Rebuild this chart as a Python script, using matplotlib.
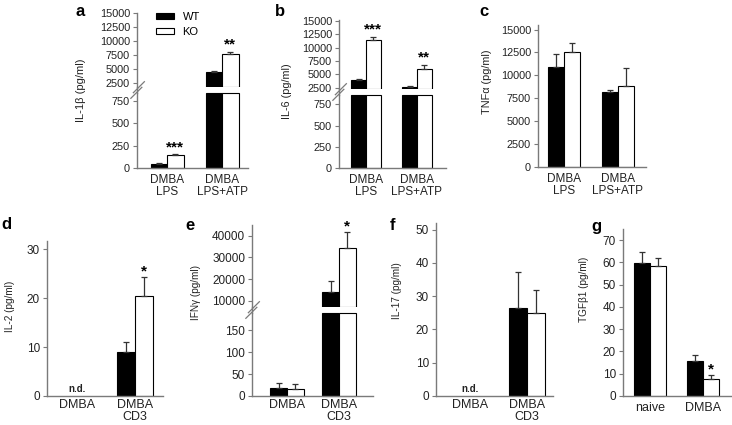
import matplotlib
matplotlib.use('Agg')
import matplotlib.pyplot as plt
import numpy as np
from matplotlib.patches import Patch
from matplotlib.lines import Line2D

plt.rcParams['font.family'] = ['Liberation Sans', 'DejaVu Sans']

# ---------------- data ----------------
series = ['WT', 'KO']
groups_innate = ['DMBA\nLPS', 'DMBA\nLPS+ATP']
groups_tcell = ['DMBA', 'DMBA\nCD3']
groups_tgf = ['naive', 'DMBA']

il1b_wt = [50, 4400]
il1b_ko = [144, 7740]
il1b_wt_err = [8, 300]
il1b_ko_err = [8, 350]

il6_wt = [4000, 2700]
il6_ko = [11400, 6000]
il6_wt_err = [200, 200]
il6_ko_err = [700, 800]

tnf_wt = [10880, 8190]
tnf_ko = [12520, 8880]
tnf_wt_err = [1460, 250]
tnf_ko_err = [1020, 1960]

il2_wt = [np.nan, 9.0]
il2_ko = [np.nan, 20.5]
il2_wt_err = [0, 2.0]
il2_ko_err = [0, 3.9]

ifng_wt = [18.5, 14150]
ifng_ko = [15.4, 34600]
ifng_wt_err = [12.3, 4900]
ifng_ko_err = [13.1, 7200]

il17_wt = [np.nan, 26.5]
il17_ko = [np.nan, 25.0]
il17_wt_err = [0, 10.8]
il17_ko_err = [0, 6.8]

tgfb_wt = [59.6, 15.5]
tgfb_ko = [58.3, 7.8]
tgfb_wt_err = [5.2, 2.9]
tgfb_ko_err = [3.7, 1.5]

# ---------------- layout helpers ----------------
W, H = 732, 425
fig = plt.figure(figsize=(W / 100, H / 100), dpi=100)

SPINE = '#7a7a7a'
TXT = '#222222'


def ax_px(x0, x1, y0, y1):
    return fig.add_axes([x0 / W, 1 - y1 / H, (x1 - x0) / W, (y1 - y0) / H])


def style(ax, ticksize, xaxis=True):
    for s in ['top', 'right']:
        ax.spines[s].set_visible(False)
    ax.spines['left'].set_color(SPINE)
    ax.spines['bottom'].set_color(SPINE)
    ax.spines['left'].set_linewidth(1.0)
    ax.spines['bottom'].set_linewidth(1.0)
    ax.tick_params(axis='y', direction='out', length=3, width=0.8, color=SPINE,
                   labelsize=ticksize, labelcolor=TXT, pad=2)
    if not xaxis:
        ax.spines['bottom'].set_visible(False)
        ax.set_xticks([])
    ax.patch.set_alpha(0)


def draw_bars(ax, wt, ko, wt_err, ko_err, width, lower=None, cap=None, clip=True):
    x = np.arange(len(wt))
    for vals, errs, off, fc in [(wt, wt_err, -width / 2, 'black'),
                                (ko, ko_err, width / 2, 'white')]:
        vals = np.asarray(vals, float)
        errs = np.asarray(errs, float)
        h = vals.copy()
        b = 0
        if cap is not None:
            h = np.minimum(vals, cap)
        if lower is not None:
            h = np.where(vals > lower, vals - lower, np.nan)
            b = lower
        ax.bar(x + off, h, width, bottom=b, color=fc, edgecolor='black',
               linewidth=0.8, clip_on=clip, zorder=2)
        ax.errorbar(x + off, vals, yerr=[np.zeros_like(vals), errs], fmt='none',
                    ecolor='#333333', elinewidth=0.9, capsize=2.5, capthick=0.9, zorder=3)


def star(ax, xi, val, err, width, text, dy=0):
    ax.annotate(text, (xi + width / 2, val + err), xytext=(0, dy), textcoords='offset points',
                ha='center', va='bottom', fontsize=11, fontweight='bold', color='black',
                annotation_clip=False)


def set_cats(ax, labels, xlim, size, pad):
    ax.set_xticks(np.arange(len(labels)))
    ax.set_xticklabels(labels, fontsize=size, color=TXT, linespacing=1.0)
    ax.tick_params(axis='x', length=0, pad=pad)
    ax.set_xlim(*xlim)


def brk(ax_up, ax_lo):
    pu = ax_up.get_position()
    pl = ax_lo.get_position()
    x = pu.x0
    fig.add_artist(Line2D([x, x], [pl.y1, pu.y0], transform=fig.transFigure,
                          color=SPINE, lw=1.0))
    ymid = (pl.y1 + pu.y0) / 2
    dxp, dyp = 5.5 / W, 5.5 / H
    for off in (-2.8, 2.8):
        cx = x + 0.6 / W + off * 0.45 / W
        cy = ymid + off / H
        fig.add_artist(Line2D([cx - dxp, cx + dxp], [cy - dyp, cy + dyp],
                              transform=fig.transFigure, color=SPINE, lw=0.9))


# ---------------- panel a ----------------
wa = 0.30
a_up = ax_px(137, 248, 13, 87)
a_lo = ax_px(137, 248, 93, 168)
draw_bars(a_up, il1b_wt, il1b_ko, il1b_wt_err, il1b_ko_err, wa, lower=1800)
draw_bars(a_lo, il1b_wt, il1b_ko, il1b_wt_err, il1b_ko_err, wa, cap=840, clip=False)
a_up.set_ylim(1800, 15000)
a_up.set_yticks(np.arange(2500, 15001, 2500))
a_lo.set_ylim(0, 840)
a_lo.set_yticks([0, 250, 500, 750])
style(a_up, 7.8, xaxis=False)
style(a_lo, 7.8)
a_up.set_xlim(-0.55, 1.47)
set_cats(a_lo, groups_innate, (-0.55, 1.47), 8.5, 4)
star(a_lo, 0, il1b_ko[0], il1b_ko_err[0], wa, '***', 0)
star(a_up, 1, il1b_ko[1], il1b_ko_err[1], wa, '**', 0)
brk(a_up, a_lo)
handles = [Patch(facecolor='black', edgecolor='black', lw=0.8, label=series[0]),
           Patch(facecolor='white', edgecolor='black', lw=0.8, label=series[1])]
a_up.legend(handles=handles, loc='upper left', bbox_to_anchor=(0.17, 1.01), frameon=False,
            fontsize=8, handlelength=1.6, handleheight=0.4, handletextpad=0.8,
            labelspacing=0.4, borderpad=0, borderaxespad=0)

# ---------------- panel b ----------------
wb = 0.29
b_up = ax_px(339, 446, 20, 89)
b_lo = ax_px(339, 446, 95, 168)
draw_bars(b_up, il6_wt, il6_ko, il6_wt_err, il6_ko_err, wb, lower=2250)
draw_bars(b_lo, il6_wt, il6_ko, il6_wt_err, il6_ko_err, wb, cap=860, clip=False)
b_up.set_ylim(2250, 15200)
b_up.set_yticks(np.arange(2500, 15001, 2500))
b_lo.set_ylim(0, 860)
b_lo.set_yticks([0, 250, 500, 750])
style(b_up, 7.8, xaxis=False)
style(b_lo, 7.8)
b_up.set_xlim(-0.53, 1.57)
set_cats(b_lo, groups_innate, (-0.53, 1.57), 8.5, 4)
star(b_up, 0, il6_ko[0], il6_ko_err[0], wb, '***', 0)
star(b_up, 1, il6_ko[1], il6_ko_err[1], wb, '**', 0)
brk(b_up, b_lo)

# ---------------- panel c ----------------
wc = 0.30
c_ax = ax_px(538, 646, 25, 167)
draw_bars(c_ax, tnf_wt, tnf_ko, tnf_wt_err, tnf_ko_err, wc)
c_ax.set_ylim(0, 15500)
c_ax.set_yticks(np.arange(0, 15001, 2500))
style(c_ax, 7.8)
set_cats(c_ax, groups_innate, (-0.48, 1.52), 8.5, 4)

# ---------------- panel d ----------------
wd = 0.31
d_ax = ax_px(47, 163, 241, 396)
draw_bars(d_ax, il2_wt, il2_ko, il2_wt_err, il2_ko_err, wd)
d_ax.set_ylim(0, 31.7)
d_ax.set_yticks([0, 10, 20, 30])
style(d_ax, 8.5)
set_cats(d_ax, groups_tcell, (-0.52, 1.48), 9, 2.5)
star(d_ax, 1, il2_ko[1], il2_ko_err[1], wd, '*', -1)
d_ax.annotate('n.d.', (0, 0), xytext=(0, 1.5), textcoords='offset points', ha='center',
              va='bottom', fontsize=7, fontweight='bold', color=TXT)

# ---------------- panel e ----------------
we = 0.32
e_up = ax_px(252, 373, 225, 307)
e_lo = ax_px(252, 373, 313, 396)
draw_bars(e_up, ifng_wt, ifng_ko, ifng_wt_err, ifng_ko_err, we, lower=7100)
draw_bars(e_lo, ifng_wt, ifng_ko, ifng_wt_err, ifng_ko_err, we, cap=190, clip=False)
e_up.set_ylim(7100, 45000)
e_up.set_yticks([10000, 20000, 30000, 40000])
e_lo.set_ylim(0, 190)
e_lo.set_yticks([0, 50, 100, 150])
style(e_up, 8.5, xaxis=False)
style(e_lo, 8.5)
e_up.set_xlim(-0.67, 1.65)
set_cats(e_lo, groups_tcell, (-0.67, 1.65), 9, 2.5)
star(e_up, 1, ifng_ko[1], ifng_ko_err[1], we, '*', -1)
brk(e_up, e_lo)

# ---------------- panel f ----------------
wf = 0.32
f_ax = ax_px(436, 553, 223, 396)
draw_bars(f_ax, il17_wt, il17_ko, il17_wt_err, il17_ko_err, wf)
f_ax.set_ylim(0, 52)
f_ax.set_yticks([0, 10, 20, 30, 40, 50])
style(f_ax, 8.5)
set_cats(f_ax, groups_tcell, (-0.6, 1.46), 9, 2.5)
f_ax.annotate('n.d.', (0, 0), xytext=(0, 1.5), textcoords='offset points', ha='center',
              va='bottom', fontsize=7, fontweight='bold', color=TXT)

# ---------------- panel g ----------------
wg = 0.31
g_ax = ax_px(623, 731, 229, 396)
draw_bars(g_ax, tgfb_wt, tgfb_ko, tgfb_wt_err, tgfb_ko_err, wg)
g_ax.set_ylim(0, 75)
g_ax.set_yticks(np.arange(0, 71, 10))
style(g_ax, 8.5)
set_cats(g_ax, groups_tgf, (-0.51, 1.53), 9, 4)
star(g_ax, 1, tgfb_ko[1], tgfb_ko_err[1], wg, '*', -1)

# ---------------- y labels & panel letters ----------------
ylabels = [('IL-1\u03b2 (pg/ml)', 81, 90, 8),
           ('IL-6 (pg/ml)', 287, 91, 7.8),
           ('TNF\u03b1 (pg/ml)', 487, 82, 7.8),
           ('IL-2 (pg/ml)', 10, 306, 7.2),
           ('IFN\u03b3 (pg/ml)', 196, 293, 7.2),
           ('IL-17 (pg/ml)', 397, 291, 7.2),
           ('TGF\u03b21 (pg/ml)', 584, 289, 7.2)]
for t, x, y, s in ylabels:
    fig.text(x / W, 1 - y / H, t, rotation=90, ha='center', va='center', fontsize=s, color=TXT)

letters = [('a', 80, 11), ('b', 280, 12), ('c', 484, 12), ('d', 6, 224),
           ('e', 190, 226), ('f', 392, 226), ('g', 596, 226)]
for t, x, y in letters:
    fig.text(x / W, 1 - y / H, t, ha='center', va='center', fontsize=12, fontweight='bold',
             color='black')

fig.savefig('out.png', dpi=100)
